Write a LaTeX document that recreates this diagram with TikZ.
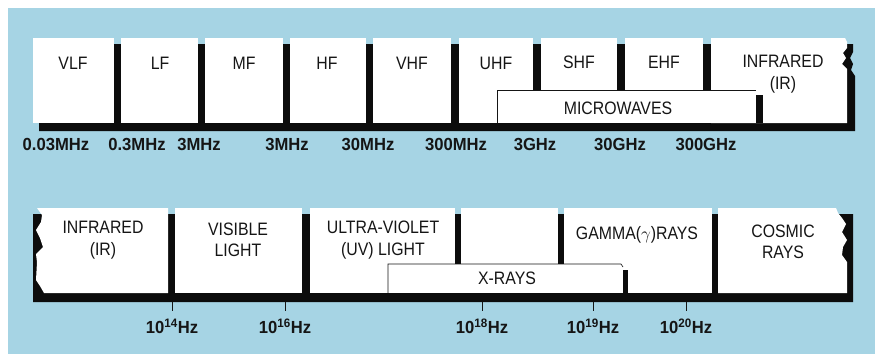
\documentclass[tikz,border=0pt]{standalone}
\usepackage{fontspec}
\setmainfont{Liberation Sans}[FakeStretch=0.88]
\newfontfamily\freqfont{Liberation Sans}[FakeStretch=0.95]
\definecolor{bg}{HTML}{A6D4E4}
\definecolor{ink}{HTML}{151515}
\definecolor{shadow}{HTML}{0C0C0C}
\begin{document}
\begin{tikzpicture}[x=1pt,y=-1pt,
  every node/.style={text=ink, inner sep=0pt},
  boxlbl/.style={font=\fontsize{18}{21.5}\selectfont, align=center},
  freq/.style={font=\freqfont\bfseries\fontsize{17.5}{20}\selectfont},
  band/.style={fill=white},
  shade/.style={fill=shadow},
  tick/.style={draw=ink, line width=1pt}]
\useasboundingbox (0,0) rectangle (875,354);
\fill[white] (0,0) rectangle (875,354);
\fill[bg] (8,8) rectangle (875,354);

% ---------- top row ----------
\fill[shade] (39,44) -- (853,44) -- (853,52) -- (850,58) -- (853,64) -- (851,70) -- (855,76) -- (855,131) -- (39,131) -- cycle;
\foreach \a/\b in {33/114,121/198,205/283,290/366,373/451,459/533,541/617,625/703}
  \fill[band] (\a,38) rectangle (\b,123);
\fill[band] (711,38) -- (845,38) -- (847,42) -- (847,48) -- (843,53) -- (846,58) -- (842,64) -- (847,69) -- (847,123) -- (711,123) -- cycle;
% microwaves
\fill[shade] (756,95) rectangle (763,123);
\fill[band] (497,90) rectangle (756,123);
\draw[ink, line width=0.6pt] (497,123) -- (497,90) -- (756,90);

\node[boxlbl] (vlf) at (73,63) {VLF};
\node[boxlbl] (lf) at (160,63) {LF};
\node[boxlbl] (mf) at (244,63) {MF};
\node[boxlbl] (hf) at (327,63) {HF};
\node[boxlbl] (vhf) at (412,63) {VHF};
\node[boxlbl] (uhf) at (496,63) {UHF};
\node[boxlbl] (shf) at (579,62) {SHF};
\node[boxlbl] (ehf) at (664,62) {EHF};
\node[boxlbl] (irtop) at (783,74) {INFRARED\\(IR)};
\node[boxlbl] (micro) at (618,108) {MICROWAVES};

\node[freq] (f1) at (56,144) {0.03MHz};
\node[freq] (f2) at (137,144) {0.3MHz};
\node[freq] (f3) at (199,144) {3MHz};
\node[freq] (f4) at (287,144) {3MHz};
\node[freq] (f5) at (368,144) {30MHz};
\node[freq] (f6) at (456,144) {300MHz};
\node[freq] (f7) at (535,144) {3GHz};
\node[freq] (f8) at (620,144) {30GHz};
\node[freq] (f9) at (706,144) {300GHz};

% ---------- bottom row ----------
\fill[shade] (33,214) -- (840,214) -- (853,214) -- (853,302) -- (33,302) -- cycle;
\fill[band] (37,208) -- (168,208) -- (168,293) -- (44,293) -- (40,286) -- (36,280) -- (37,262) -- (36,254) -- (43,247) -- (40,238) -- (36,230) -- (41,222) -- (42,215) -- cycle;
\foreach \a/\b in {175/302,310/455,461/558,564/712}
  \fill[band] (\a,208) rectangle (\b,293);
\fill[band] (718,208) -- (836,208) -- (838,213) -- (842,218) -- (846,224) -- (842,232) -- (847,240) -- (843,247) -- (842,255) -- (847,262) -- (847,293) -- (718,293) -- cycle;
% x-rays
\fill[shade] (623,270) rectangle (628,293);
\fill[band] (388,264) rectangle (623,293);
\draw[ink, line width=0.6pt] (388,293) -- (388,264) -- (621,264) -- (623,267);

\node[boxlbl] (irbot) at (103,240) {INFRARED\\(IR)};
\node[boxlbl] (vis) at (238,240) {VISIBLE\\LIGHT};
\node[boxlbl] (uv) at (383,240) {ULTRA-VIOLET\\(UV) LIGHT};
\node[boxlbl] (gamma) at (637,235) {GAMMA($\gamma$)RAYS};
\node[boxlbl] (cosmic) at (783,242) {COSMIC\\RAYS};
\node[boxlbl] (xray) at (507,278) {X-RAYS};

\foreach \x/\e [count=\i] in {172/14,285/16,482/18,593/19,686/20}{
  \coordinate (t\i a) at (\x,302);
  \coordinate (t\i b) at (\x,311);
  \draw[tick] (t\i a) -- (t\i b);
  \node[freq] (h\i) at (\x,326) {10\textsuperscript{\e}Hz};
}
\end{tikzpicture}
\end{document}
